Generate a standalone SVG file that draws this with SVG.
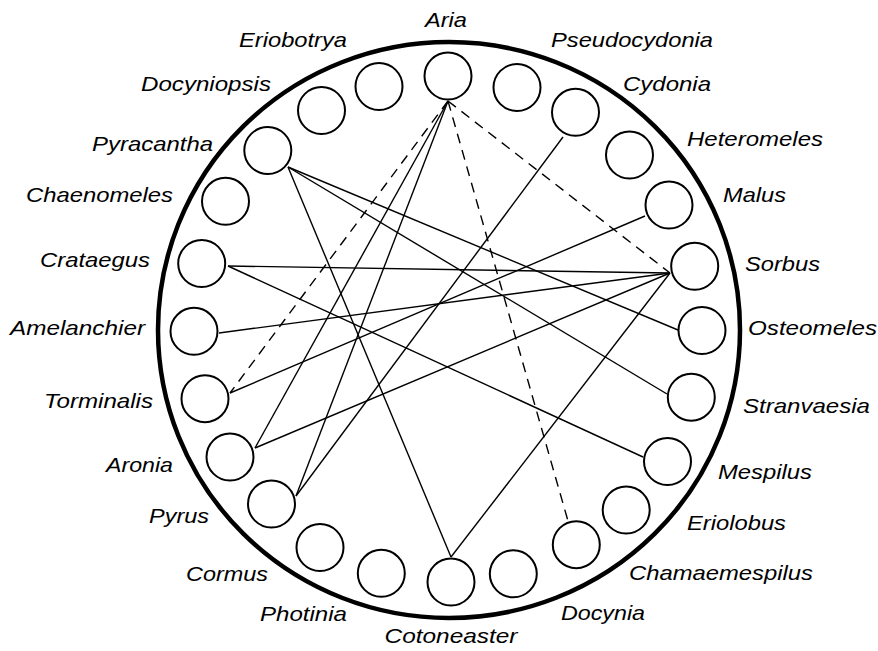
<svg xmlns="http://www.w3.org/2000/svg" width="878" height="651" viewBox="0 0 878 651">
<style>
.bg{fill:#fff}
.outer{fill:none;stroke:#000;stroke-width:4.5}
.node circle{fill:#fff;stroke:#000;stroke-width:2}
.node text{font-family:"Liberation Sans",Arial,sans-serif;font-style:italic;font-size:21px;fill:#000}
.e{stroke:#000;stroke-width:1.4;fill:none}
.d{stroke:#000;stroke-width:1.4;fill:none;stroke-dasharray:10 7}
.l{text-anchor:end}
.m{text-anchor:middle}
</style>
<rect class="bg" x="0" y="0" width="878" height="651"/>
<ellipse class="outer" cx="449" cy="330" rx="291" ry="288"/>
<g id="connectors">
<line class="e" x1="288" y1="167" x2="451" y2="557"/>
<line class="e" x1="288" y1="167" x2="678" y2="330"/>
<line class="e" x1="288" y1="167" x2="667" y2="394"/>
<line class="e" x1="228" y1="266" x2="670" y2="273"/>
<line class="e" x1="228" y1="266" x2="643" y2="457"/>
<line class="e" x1="219" y1="333" x2="670" y2="273"/>
<line class="e" x1="230" y1="393" x2="645" y2="216"/>
<line class="e" x1="255" y1="448" x2="670" y2="273"/>
<line class="e" x1="255" y1="448" x2="448" y2="101"/>
<line class="e" x1="296" y1="496" x2="448" y2="101"/>
<line class="e" x1="296" y1="496" x2="563" y2="137"/>
<line class="e" x1="451" y1="557" x2="670" y2="273"/>
<line class="d" x1="448" y1="101" x2="230" y2="393"/>
<line class="d" x1="448" y1="101" x2="568" y2="521"/>
<line class="d" x1="448" y1="101" x2="670" y2="273"/>
</g>
<g id="aria" class="node"><circle cx="448" cy="76" r="23.5"/><text class="m" x="446" y="27" textLength="42" lengthAdjust="spacingAndGlyphs">Aria</text></g>
<g id="pseudocydonia" class="node"><circle cx="517" cy="87.5" r="23.5"/><text x="551" y="47" textLength="162" lengthAdjust="spacingAndGlyphs">Pseudocydonia</text></g>
<g id="cydonia" class="node"><circle cx="575.5" cy="112.3" r="23.5"/><text x="623" y="91" textLength="88" lengthAdjust="spacingAndGlyphs">Cydonia</text></g>
<g id="heteromeles" class="node"><circle cx="629.5" cy="155" r="23.5"/><text x="687" y="146" textLength="136" lengthAdjust="spacingAndGlyphs">Heteromeles</text></g>
<g id="malus" class="node"><circle cx="669" cy="205" r="23.5"/><text x="723" y="202" textLength="63" lengthAdjust="spacingAndGlyphs">Malus</text></g>
<g id="sorbus" class="node"><circle cx="694.7" cy="266.3" r="23.5"/><text x="745" y="271" textLength="75" lengthAdjust="spacingAndGlyphs">Sorbus</text></g>
<g id="osteomeles" class="node"><circle cx="702" cy="330.5" r="23.5"/><text x="748" y="335" textLength="129" lengthAdjust="spacingAndGlyphs">Osteomeles</text></g>
<g id="stranvaesia" class="node"><circle cx="691.3" cy="397.2" r="23.5"/><text x="743" y="413" textLength="127" lengthAdjust="spacingAndGlyphs">Stranvaesia</text></g>
<g id="mespilus" class="node"><circle cx="667.5" cy="461.5" r="23.5"/><text x="718" y="479" textLength="94" lengthAdjust="spacingAndGlyphs">Mespilus</text></g>
<g id="eriolobus" class="node"><circle cx="626.2" cy="510" r="23.5"/><text x="687" y="530" textLength="99" lengthAdjust="spacingAndGlyphs">Eriolobus</text></g>
<g id="chamaemespilus" class="node"><circle cx="576.3" cy="544.7" r="23.5"/><text x="629" y="580" textLength="184" lengthAdjust="spacingAndGlyphs">Chamaemespilus</text></g>
<g id="docynia" class="node"><circle cx="513.3" cy="573.8" r="23.5"/><text x="561" y="620" textLength="84" lengthAdjust="spacingAndGlyphs">Docynia</text></g>
<g id="cotoneaster" class="node"><circle cx="451" cy="582" r="23.5"/><text class="m" x="451" y="643" textLength="133" lengthAdjust="spacingAndGlyphs">Cotoneaster</text></g>
<g id="photinia" class="node"><circle cx="381.3" cy="573.3" r="23.5"/><text class="l" x="347" y="621" textLength="87" lengthAdjust="spacingAndGlyphs">Photinia</text></g>
<g id="cormus" class="node"><circle cx="320" cy="547.5" r="23.5"/><text class="l" x="268" y="581" textLength="82" lengthAdjust="spacingAndGlyphs">Cormus</text></g>
<g id="pyrus" class="node"><circle cx="271.5" cy="504" r="23.5"/><text class="l" x="209" y="523" textLength="60" lengthAdjust="spacingAndGlyphs">Pyrus</text></g>
<g id="aronia" class="node"><circle cx="230" cy="457" r="23.5"/><text class="l" x="173" y="472" textLength="67" lengthAdjust="spacingAndGlyphs">Aronia</text></g>
<g id="torminalis" class="node"><circle cx="205" cy="398.7" r="23.5"/><text class="l" x="153" y="408" textLength="109" lengthAdjust="spacingAndGlyphs">Torminalis</text></g>
<g id="amelanchier" class="node"><circle cx="194" cy="331.3" r="23.5"/><text class="l" x="145" y="335" textLength="135" lengthAdjust="spacingAndGlyphs">Amelanchier</text></g>
<g id="crataegus" class="node"><circle cx="201.7" cy="263.5" r="23.5"/><text class="l" x="150" y="267" textLength="110" lengthAdjust="spacingAndGlyphs">Crataegus</text></g>
<g id="chaenomeles" class="node"><circle cx="225.5" cy="201.3" r="23.5"/><text class="l" x="173" y="202" textLength="147" lengthAdjust="spacingAndGlyphs">Chaenomeles</text></g>
<g id="pyracantha" class="node"><circle cx="267.8" cy="150.5" r="23.5"/><text class="l" x="213" y="151" textLength="121" lengthAdjust="spacingAndGlyphs">Pyracantha</text></g>
<g id="docyniopsis" class="node"><circle cx="321.5" cy="110.5" r="23.5"/><text class="l" x="271" y="91" textLength="130" lengthAdjust="spacingAndGlyphs">Docyniopsis</text></g>
<g id="eriobotrya" class="node"><circle cx="379" cy="86.5" r="23.5"/><text class="l" x="347" y="47" textLength="108" lengthAdjust="spacingAndGlyphs">Eriobotrya</text></g>
</svg>
